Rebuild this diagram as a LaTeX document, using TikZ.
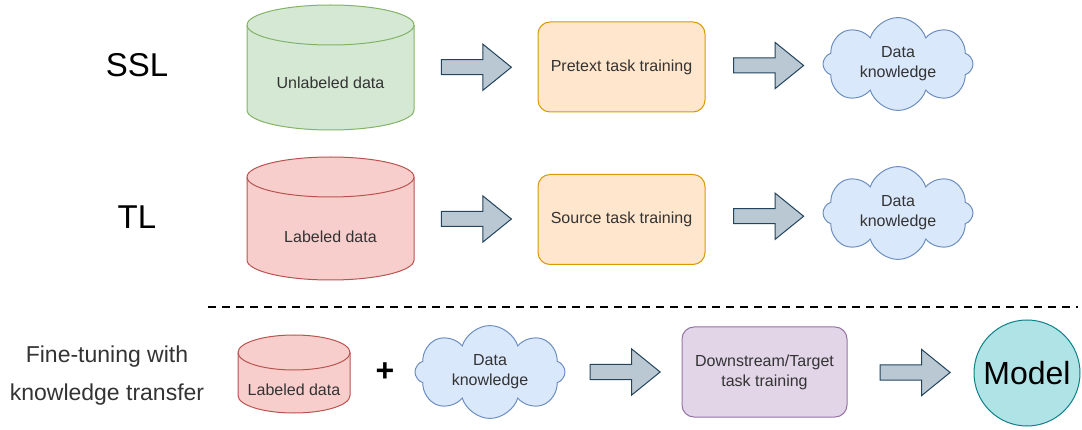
\documentclass[tikz,border=0pt]{standalone}
\usepackage{fontspec}
\setmainfont{Liberation Sans}
\usetikzlibrary{positioning,calc,shapes.symbols,shapes.arrows}
\definecolor{KGreenFill}{HTML}{D5E8D4}
\definecolor{KGreenLine}{HTML}{82B366}
\definecolor{KRedFill}{HTML}{F8CECC}
\definecolor{KRedLine}{HTML}{B85450}
\definecolor{KOrangeFill}{HTML}{FFE6CC}
\definecolor{KOrangeLine}{HTML}{D79B00}
\definecolor{KBlueFill}{HTML}{DAE8FC}
\definecolor{KBlueLine}{HTML}{6C8EBF}
\definecolor{KPurpleFill}{HTML}{E1D5E7}
\definecolor{KPurpleLine}{HTML}{9673A6}
\definecolor{KTealFill}{HTML}{B0E3E6}
\definecolor{KTealLine}{HTML}{0E8088}
\definecolor{KArrowFill}{HTML}{BAC8D3}
\definecolor{KArrowLine}{HTML}{23445D}
\definecolor{KInk}{HTML}{333333}
\tikzset{
  drumbox/.style={rectangle,inner sep=0pt,outer sep=0pt},
  drumgreen/.style={draw=KGreenLine,fill=KGreenFill,line width=1pt},
  drumred/.style={draw=KRedLine,fill=KRedFill,line width=1pt},
  card/.style={draw=KOrangeLine,fill=KOrangeFill,line width=1pt,rounded corners=12pt,
               minimum width=167pt,minimum height=90pt,text=KInk,align=center,
               font=\fontsize{16}{20}\selectfont},
  cardpurple/.style={card,draw=KPurpleLine,fill=KPurpleFill},
  puff/.style={cloud,cloud puffs=8,cloud puff arc=145,aspect=1.6,draw=KBlueLine,
               fill=KBlueFill,line width=1pt,inner sep=0pt,minimum width=150pt,
               minimum height=92pt,text=KInk,align=center,
               font=\fontsize{16}{20}\selectfont},
  fatarrow/.style={single arrow,draw=KArrowLine,fill=KArrowFill,line width=1pt,
                   inner xsep=0pt,inner ysep=7pt,minimum height=70pt,
                   single arrow head extend=15.5pt,single arrow tip angle=78},
  boxtext/.style={text=KInk,font=\fontsize{16}{20}\selectfont,align=center},
  rowlabel/.style={text=black,font=\fontsize{33}{40}\selectfont},
  sidelabel/.style={text=KInk,font=\fontsize{23}{38}\selectfont,align=center},
}

\begin{document}
\begin{tikzpicture}[x=1pt,y=-1pt]
  \useasboundingbox (0,0) rectangle (1082,430);

  % self-supervised row
  \node[rowlabel] (ssl) at (137,65) {SSL};
  \node[drumbox,minimum width=167pt,minimum height=125pt] (ssldata) at (330.5,67.5) {};
  \path[drumgreen] ([yshift=-20pt]ssldata.north west) -- ([yshift=20pt]ssldata.south west)
    arc[start angle=180,end angle=360,x radius=83.5pt,y radius=20pt]
    -- ([yshift=-20pt]ssldata.north east)
    arc[start angle=0,end angle=180,x radius=83.5pt,y radius=20pt] -- cycle;
  \draw[drumgreen,fill=none] ([yshift=-20pt]ssldata.north west)
    arc[start angle=180,end angle=360,x radius=83.5pt,y radius=20pt];
  \node[boxtext] (ssldata-txt) at (330.5,83) {Unlabeled data};
  \node[card] (pretext) at (621.5,67) {Pretext task training};
  \node[puff] (sslknow) at (898,64) {Data\\knowledge};
  \node[fatarrow,xshift=-4pt] (ssl-a1) at ($(ssldata.east)!0.5!(pretext.west)$) {};
  \node[fatarrow] (ssl-a2) at ($(pretext.east)!0.5!(sslknow.west)$) {};

  % transfer learning row
  \node[rowlabel] (tl) at (137,217.5) {TL};
  \node[drumbox,minimum width=167pt,minimum height=123pt] (tldata) at (330.5,218.5) {};
  \path[drumred] ([yshift=-20pt]tldata.north west) -- ([yshift=20pt]tldata.south west)
    arc[start angle=180,end angle=360,x radius=83.5pt,y radius=20pt]
    -- ([yshift=-20pt]tldata.north east)
    arc[start angle=0,end angle=180,x radius=83.5pt,y radius=20pt] -- cycle;
  \draw[drumred,fill=none] ([yshift=-20pt]tldata.north west)
    arc[start angle=180,end angle=360,x radius=83.5pt,y radius=20pt];
  \node[boxtext] (tldata-txt) at (330.5,237) {Labeled data};
  \node[card] (source) at (621.5,219.5) {Source task training};
  \node[puff] (tlknow) at (898,213) {Data\\knowledge};
  \node[fatarrow,xshift=-4pt] (tl-a1) at ($(tldata.east)!0.5!(source.west)$) {};
  \node[fatarrow] (tl-a2) at ($(source.east)!0.5!(tlknow.west)$) {};

  \coordinate (cut-l) at (208,307);
  \coordinate (cut-r) at (1078,307);
  \draw[line width=2.5pt,dash pattern=on 8pt off 6pt] (cut-l) -- (cut-r);

  % fine-tuning row
  \node[sidelabel] (ft) at (107,376) {Fine-tuning with\\knowledge transfer};
  \node[drumbox,minimum width=112pt,minimum height=78pt] (ftdata) at (294,374) {};
  \path[drumred] ([yshift=-17.5pt]ftdata.north west) -- ([yshift=17.5pt]ftdata.south west)
    arc[start angle=180,end angle=360,x radius=56pt,y radius=17.5pt]
    -- ([yshift=-17.5pt]ftdata.north east)
    arc[start angle=0,end angle=180,x radius=56pt,y radius=17.5pt] -- cycle;
  \draw[drumred,fill=none] ([yshift=-17.5pt]ftdata.north west)
    arc[start angle=180,end angle=360,x radius=56pt,y radius=17.5pt];
  \node[boxtext] (ftdata-txt) at (294,390) {Labeled data};
  \node[font=\fontsize{32}{36}\selectfont\bfseries] (plus) at (385,372) {+};
  \node[puff] (ftknow) at (490,372) {Data\\knowledge};
  \node[cardpurple,minimum width=165pt] (target) at (764.5,372) {Downstream/Target\\task training};
  \node[circle,draw=KTealLine,fill=KTealFill,line width=1pt,minimum size=106pt,
        inner sep=0pt,font=\fontsize{32}{36}\selectfont] (model) at (1027,373) {Model};
  \node[fatarrow,xshift=-3pt] (ft-a1) at ($(ftknow.east)!0.5!(target.west)$) {};
  \node[fatarrow] (ft-a2) at ($(target.east)!0.5!(model.west)$) {};
\end{tikzpicture}
\end{document}
